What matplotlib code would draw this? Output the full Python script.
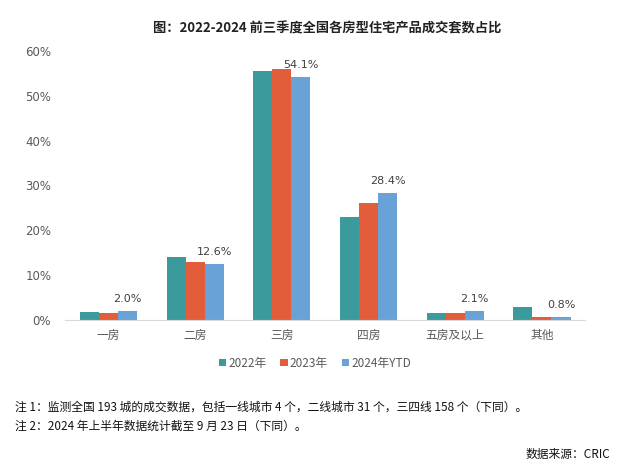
import matplotlib
matplotlib.use("Agg")
import matplotlib.pyplot as plt
import numpy as np

plt.rcParams['font.family'] = ['Noto Sans CJK SC', 'DejaVu Sans']

categories = ['一房', '二房', '三房', '四房', '五房及以上', '其他']
series_names = ['2022年', '2023年', '2024年YTD']
v2022 = [1.9, 14.0, 55.6, 22.9, 1.5, 3.0]
v2023 = [1.6, 12.9, 55.9, 26.2, 1.7, 0.6]
v2024 = [2.0, 12.6, 54.1, 28.4, 2.1, 0.8]
colors = ['#3A9A9C', '#E25E3B', '#69A2D6']
yticks = [0, 10, 20, 30, 40, 50, 60]

fig = plt.figure(figsize=(6.2, 4.62), dpi=100)
ax = fig.add_axes([0.105, 0.307, 0.839, 0.583])

x = np.arange(len(categories))
w = 0.22
bars = []
for i, (vals, name, c) in enumerate(zip([v2022, v2023, v2024], series_names, colors)):
    b = ax.bar(x + (i - 1) * w, vals, width=w, color=c, label=name)
    bars.append(b)

for rect, v in zip(bars[2], v2024):
    ax.annotate(f'{v:.1f}%', (rect.get_x() + rect.get_width() / 2, rect.get_height()),
                xytext=(0, 5), textcoords='offset points', ha='center', va='bottom',
                fontsize=8, color='#404040', family=['DejaVu Sans'])

ax.set_xlim(-0.5, len(categories) - 0.5)
ax.set_ylim(0, 60)
ax.set_yticks(yticks)
ax.set_yticklabels([f'{t}%' for t in yticks], family=['DejaVu Sans'])
ax.set_xticks(x)
ax.set_xticklabels(categories)
ax.tick_params(axis='both', length=0, colors='#595959', labelsize=8.5)
ax.tick_params(axis='x', pad=6)
ax.tick_params(axis='y', pad=10)
for s in ['top', 'right', 'left']:
    ax.spines[s].set_visible(False)
ax.spines['bottom'].set_color('#D9D9D9')

fig.text(0.528, 0.939, '图：2022-2024 前三季度全国各房型住宅产品成交套数占比',
         ha='center', va='center', fontsize=9.5, fontweight='bold', color='#222222')

leg = fig.legend(loc='center', bbox_to_anchor=(0.508, 0.214), ncol=3, frameon=False,
                 fontsize=8.5, handlelength=0.6, handleheight=0.6, handletextpad=0.2,
                 columnspacing=1.2)
for t in leg.get_texts():
    t.set_color('#595959')

fig.text(0.024, 0.119, '注 1：监测全国 193 城的成交数据，包括一线城市 4 个，二线城市 31 个，三四线 158 个（下同）。',
         ha='left', va='center', fontsize=8.5, color='#111111')
fig.text(0.024, 0.078, '注 2：2024 年上半年数据统计截至 9 月 23 日（下同）。',
         ha='left', va='center', fontsize=8.5, color='#111111')
fig.text(0.985, 0.017, '数据来源：CRIC', ha='right', va='center', fontsize=8.5, color='#111111')

fig.savefig('out.png', dpi=100)
